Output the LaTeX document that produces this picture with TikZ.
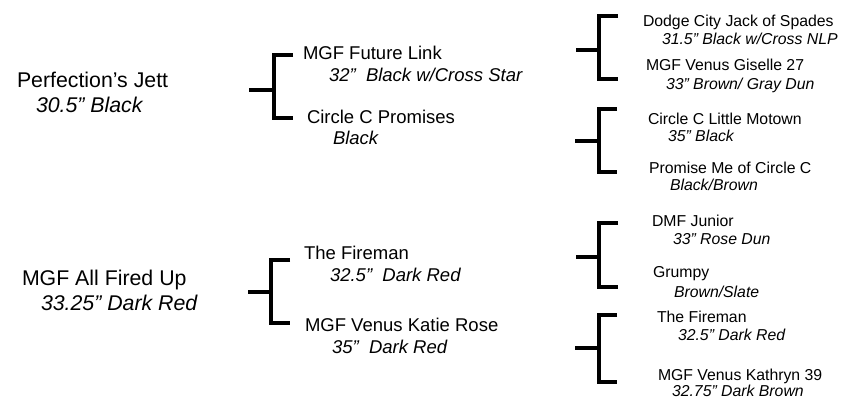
\documentclass[tikz,border=0pt]{standalone}
\usepackage{fontspec}
\setmainfont{Liberation Sans}
\begin{document}
\begin{tikzpicture}[x=1pt,y=-1pt,
  txt/.style={anchor=base west,inner sep=0pt,outer sep=0pt},
  big/.style={txt,font=\fontsize{21.3}{25}\selectfont},
  bigi/.style={txt,font=\fontsize{21.3}{25}\selectfont\itshape},
  mid/.style={txt,font=\fontsize{18.5}{22}\selectfont},
  midi/.style={txt,font=\fontsize{18.5}{22}\selectfont\itshape},
  sm/.style={txt,font=\fontsize{15.8}{18}\selectfont},
  smi/.style={txt,font=\fontsize{15.8}{18}\selectfont\itshape},
  br/.style={line width=4pt,line join=miter,line cap=butt}]
\useasboundingbox (0,0) rectangle (846,399);
% generation 1
\node[big]  (pj)  at (17,87)  {Perfection’s Jett};
\node[bigi] (pjd) at (36,112) {30.5” Black};
\node[big]  (af)  at (22,285) {MGF All Fired Up};
\node[bigi] (afd) at (41,310) {33.25” Dark Red};
% generation 2
\node[mid]  (fl)  at (303,59)  {MGF Future Link};
\node[midi] (fld) at (329,81)  {32”\ \ Black w/Cross Star};
\node[mid]  (cp)  at (307,123) {Circle C Promises};
\node[midi] (cpd) at (333,144) {Black};
\node[mid]  (tf)  at (304,259) {The Fireman};
\node[midi] (tfd) at (330,281) {32.5”\ \ Dark Red};
\node[mid]  (kr)  at (305,331) {MGF Venus Katie Rose};
\node[midi] (krd) at (332,353) {35”\ \ Dark Red};
% generation 3
\node[sm]  (dc)  at (643,26)  {Dodge City Jack of Spades};
\node[smi] (dcd) at (662,44)  {31.5” Black w/Cross NLP};
\node[sm]  (vg)  at (646,70)  {MGF Venus Giselle 27};
\node[smi] (vgd) at (666,89)  {33” Brown/ Gray Dun};
\node[sm]  (lm)  at (648,124) {Circle C Little Motown};
\node[smi] (lmd) at (668,141) {35” Black};
\node[sm]  (pm)  at (649,173) {Promise Me of Circle C};
\node[smi] (pmd) at (670,190) {Black/Brown};
\node[sm]  (dj)  at (652,226) {DMF Junior};
\node[smi] (djd) at (673,244) {33” Rose Dun};
\node[sm]  (gr)  at (653,277) {Grumpy};
\node[smi] (grd) at (674,297) {Brown/Slate};
\node[sm]  (f2)  at (657,322) {The Fireman};
\node[smi] (f2d) at (678,340) {32.5” Dark Red};
\node[sm]  (vk)  at (658,380) {MGF Venus Kathryn 39};
\node[smi] (vkd) at (672,396) {32.75” Dark Brown};
% brackets
\foreach \n/\s/\x/\t/\b/\m/\e in {a/249/274/55/118/90/293, b/248/271/260/323/292/290,
  c/576/598.5/15.5/79/49.5/618, d/575/598.5/108.5/171.5/141/617,
  e/576/598.5/223/287/257/618, f/575/598.5/315/382/348/617}{
  \coordinate (\n s) at (\s,\m);
  \coordinate (\n m) at (\x,\m);
  \coordinate (\n t) at (\x,\t);
  \coordinate (\n b) at (\x,\b);
  \coordinate (\n te) at (\e,\t);
  \coordinate (\n be) at (\e,\b);
  \draw[br] (\n s) -- (\n m);
  \draw[br] (\n te) -- (\n t) -- (\n b) -- (\n be);
}
\end{tikzpicture}
\end{document}
